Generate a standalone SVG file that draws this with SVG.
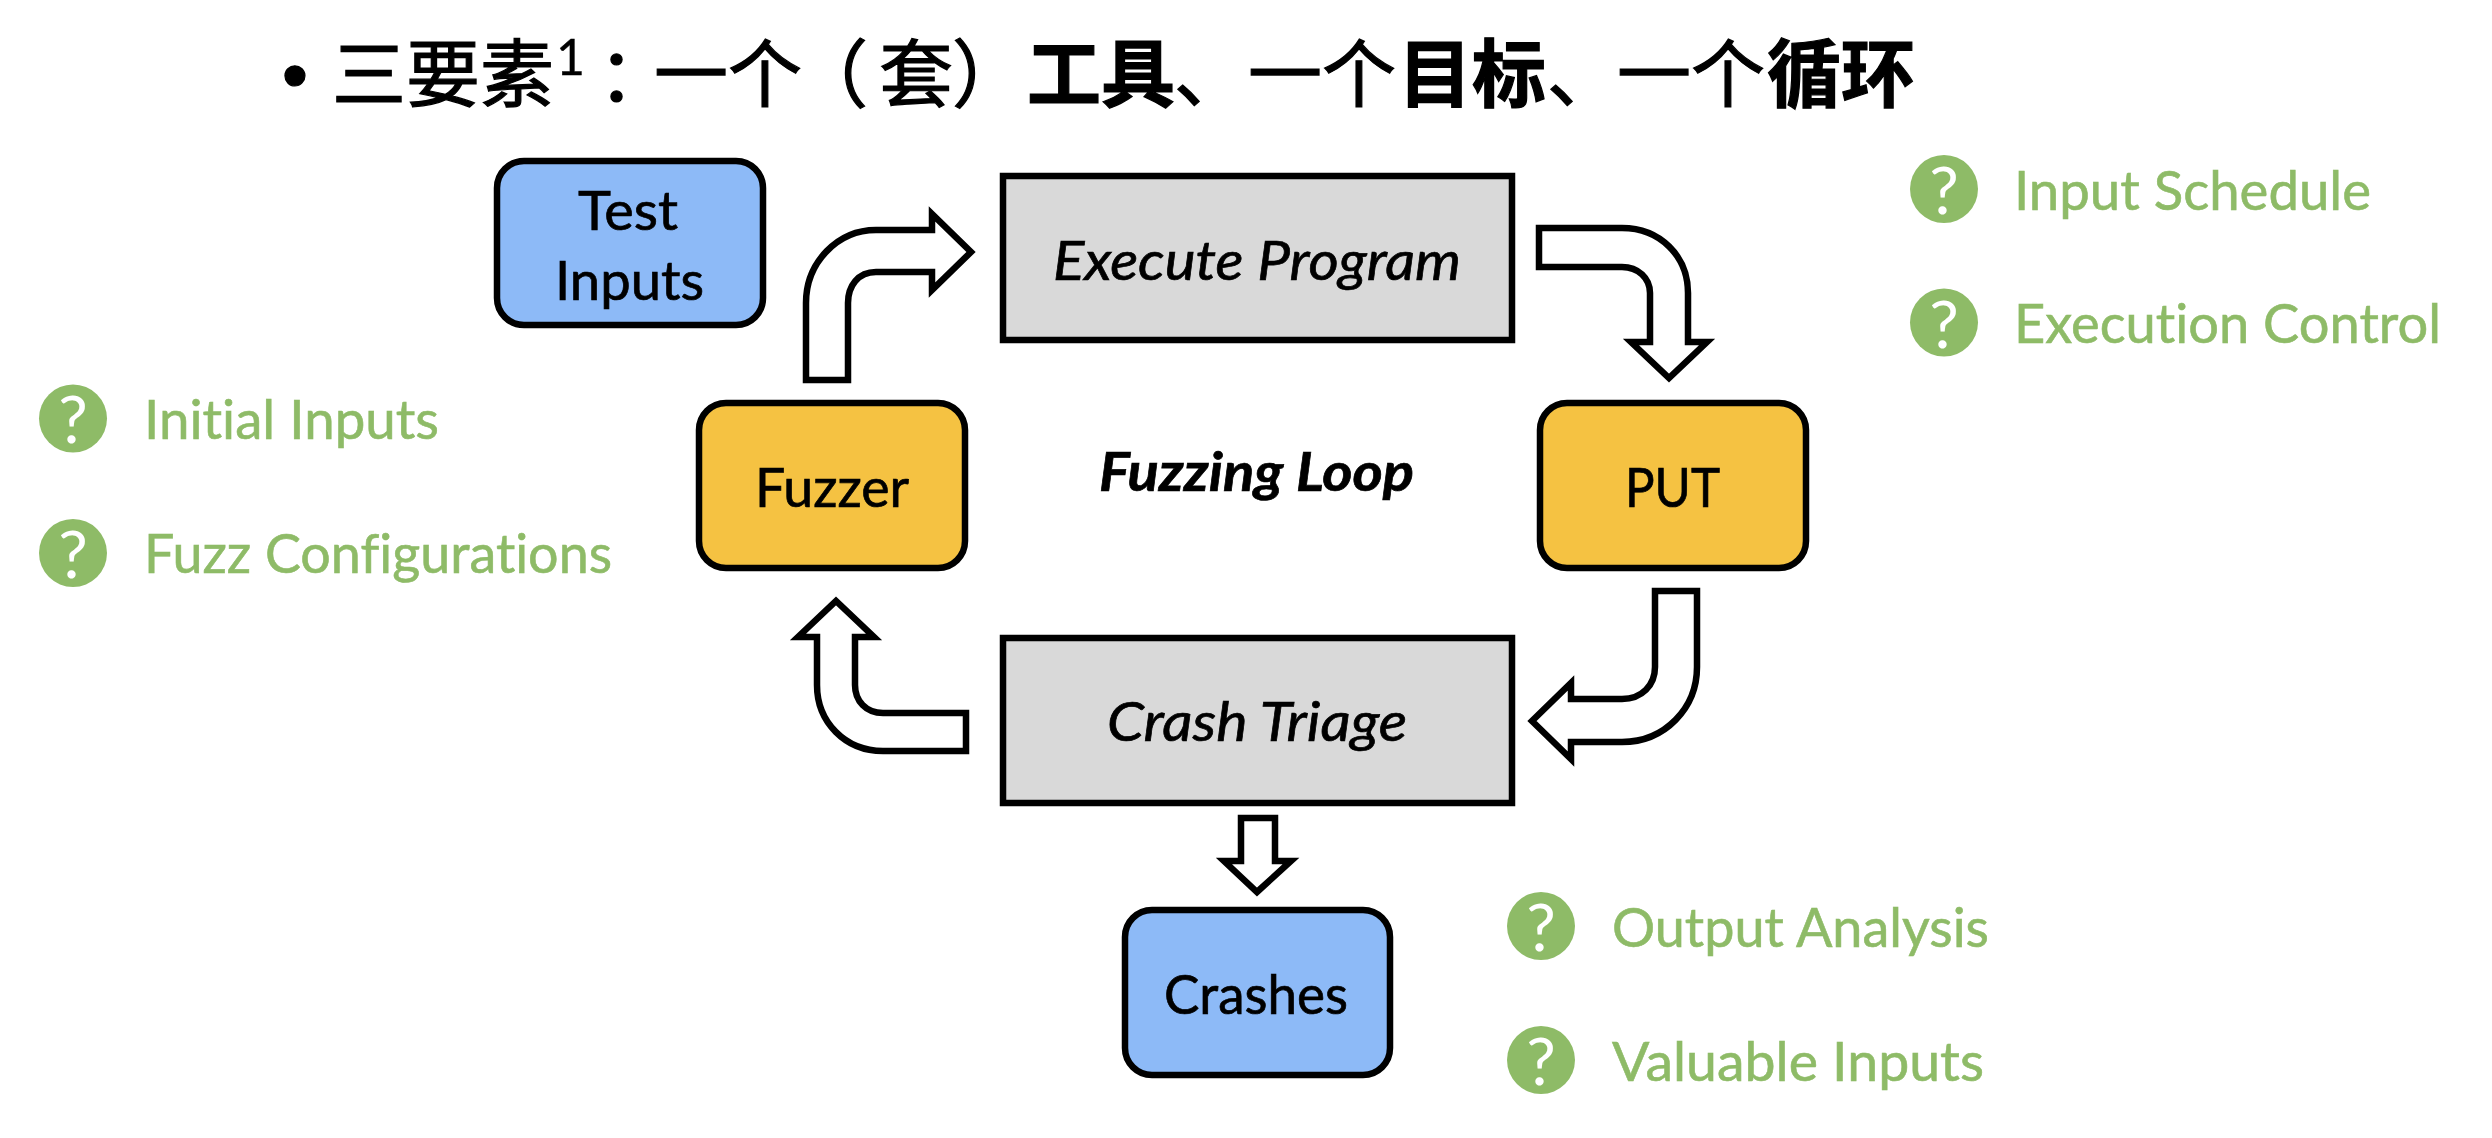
<svg xmlns="http://www.w3.org/2000/svg" width="2492" height="1138" viewBox="0 0 2492 1138">
<style>
text{font-family:"Lato","Carlito","Open Sans",sans-serif;fill:#000;font-variant-ligatures:none}
.bg{fill:#fff}
.box{stroke:#000;stroke-width:6.5}
.blue{fill:#8DBAF7}.orange{fill:#F5C242}.gray{fill:#D9D9D9}
.lbl{font-size:54px;stroke:#000;stroke-width:.7}
.it{font-size:54px;font-style:italic;stroke:#000;stroke-width:.7}
.bi{font-size:54px;font-style:italic;font-weight:700;stroke:#000;stroke-width:.7}
.arrow{fill:#fff;stroke:#000;stroke-width:6.5;stroke-miterlimit:10}
.dot{fill:#8EBB67}
.q{font-size:66px;font-weight:400;fill:#fff;text-anchor:middle}
.g{font-size:54px;fill:#8EBB67;stroke:#8EBB67;stroke-width:.6}
.t{font-family:"Noto Sans CJK SC",sans-serif;font-size:74px;stroke:#000;stroke-width:1.2}
.tb{font-family:"Noto Sans CJK SC",sans-serif;font-size:74px;font-weight:700}
.sup{font-family:"Lato",sans-serif;font-size:50px;stroke-width:.4}
</style>
<rect class="bg" width="2492" height="1138"/>
<g id="title">
<text y="101" class="t"><tspan x="282" font-family="Liberation Sans">•</tspan><tspan x="332">三要素</tspan><tspan x="556" y="75" class="sup">1</tspan><tspan x="598" y="101">：</tspan><tspan x="654">一个</tspan><tspan x="794">（</tspan><tspan x="879">套</tspan><tspan x="952">）</tspan><tspan x="1027" class="tb">工具</tspan><tspan x="1174">、</tspan><tspan x="1248">一个</tspan><tspan x="1398" class="tb">目标</tspan><tspan x="1547">、</tspan><tspan x="1617">一个</tspan><tspan x="1767" class="tb">循环</tspan></text>
</g>
<g id="connectors">
<path id="fuzzer-to-execute" class="arrow" d="M806,380 V303 C806,262 838,230 876,230 H932 V214 L971,252 L932,290 V272 H876 C858,272 848,286 848,303 V380 Z"/>
<path id="execute-to-put" class="arrow" d="M1539,228 H1622 C1660,228 1688,256 1688,293 V342 H1707 L1669,378 L1631,342 H1650 V293 C1650,278 1638,267 1622,267 H1539 Z"/>
<path id="put-to-triage" class="arrow" d="M1655,591 H1697 V667 C1697,708 1665,742 1622,742 H1571 V759 L1532,721 L1571,683 V699 H1622 C1642,699 1655,685 1655,667 Z"/>
<path id="triage-to-fuzzer" class="arrow" d="M966,713 H883 C866,713 855,701 855,685 V637 H874 L836,601 L798,637 H817 V685 C817,722 845,751 883,751 H966 Z"/>
<path id="triage-to-crashes" class="arrow" d="M1241,818 H1275 V861 H1291 L1257,892 L1224,861 H1241 Z"/>
</g>
<g id="test-inputs">
<rect class="box blue" x="497" y="161" width="266" height="164" rx="27"/>
<text class="lbl" x="578" y="230" textLength="100" lengthAdjust="spacingAndGlyphs">Test</text>
<text class="lbl" x="555" y="300" textLength="149" lengthAdjust="spacingAndGlyphs">Inputs</text>
</g>
<g id="execute-program">
<rect class="box gray" x="1003" y="176" width="509" height="164"/>
<text class="it" x="1053" y="280" textLength="408" lengthAdjust="spacingAndGlyphs">Execute Program</text>
</g>
<g id="fuzzer">
<rect class="box orange" x="699" y="403" width="266" height="165" rx="27"/>
<text class="lbl" x="755" y="507" textLength="154" lengthAdjust="spacingAndGlyphs">Fuzzer</text>
</g>
<g id="fuzzing-loop">
<text class="bi" x="1099" y="491" textLength="315" lengthAdjust="spacingAndGlyphs">Fuzzing Loop</text>
</g>
<g id="put">
<rect class="box orange" x="1540" y="403" width="266" height="165" rx="27"/>
<text class="lbl" x="1625" y="507" textLength="95" lengthAdjust="spacingAndGlyphs">PUT</text>
</g>
<g id="crash-triage">
<rect class="box gray" x="1003" y="638" width="509" height="165"/>
<text class="it" x="1107" y="741" textLength="300" lengthAdjust="spacingAndGlyphs">Crash Triage</text>
</g>
<g id="crashes">
<rect class="box blue" x="1125" y="910" width="265" height="165" rx="27"/>
<text class="lbl" x="1164" y="1014" textLength="184" lengthAdjust="spacingAndGlyphs">Crashes</text>
</g>
<g id="initial-inputs">
<circle class="dot" cx="73" cy="418.500" r="34"/>
<text class="q" x="73" y="443">?</text>
<text class="g" x="144" y="439" textLength="295" lengthAdjust="spacingAndGlyphs">Initial Inputs</text>
</g>
<g id="fuzz-configurations">
<circle class="dot" cx="73" cy="553" r="34"/>
<text class="q" x="73" y="578">?</text>
<text class="g" x="144" y="573" textLength="468" lengthAdjust="spacingAndGlyphs">Fuzz Configurations</text>
</g>
<g id="input-schedule">
<circle class="dot" cx="1944" cy="189" r="34"/>
<text class="q" x="1944" y="214">?</text>
<text class="g" x="2014" y="209.500" textLength="357" lengthAdjust="spacingAndGlyphs">Input Schedule</text>
</g>
<g id="execution-control">
<circle class="dot" cx="1944" cy="322.500" r="34"/>
<text class="q" x="1944" y="347.500">?</text>
<text class="g" x="2014" y="343" textLength="427" lengthAdjust="spacingAndGlyphs">Execution Control</text>
</g>
<g id="output-analysis">
<circle class="dot" cx="1541" cy="926" r="34"/>
<text class="q" x="1541" y="951">?</text>
<text class="g" x="1612" y="946.500" textLength="377" lengthAdjust="spacingAndGlyphs">Output Analysis</text>
</g>
<g id="valuable-inputs">
<circle class="dot" cx="1541" cy="1060" r="34"/>
<text class="q" x="1541" y="1085">?</text>
<text class="g" x="1612" y="1080.500" textLength="372" lengthAdjust="spacingAndGlyphs">Valuable Inputs</text>
</g>
</svg>
